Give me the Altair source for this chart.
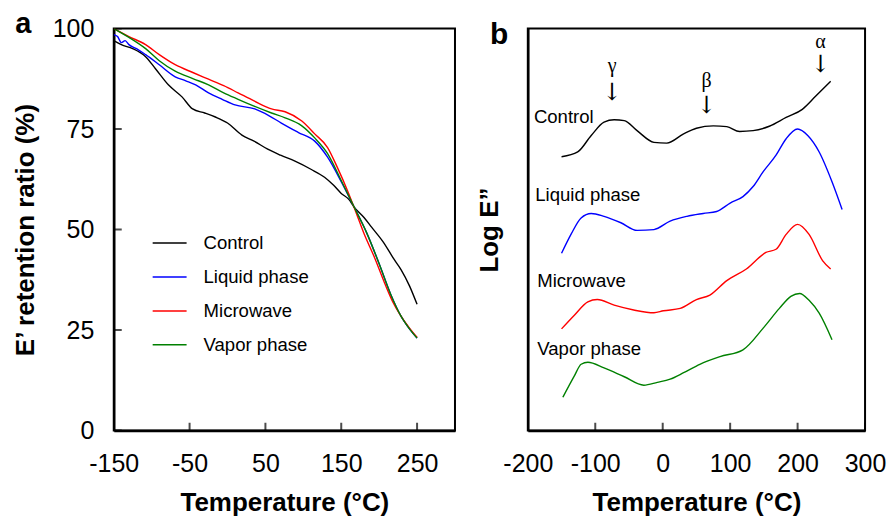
import altair as alt
import pandas as pd

FONT = "Liberation Sans"
SERIF = "Liberation Serif"
ARROWFONT = "DejaVu Serif"

series = ["Control", "Liquid phase", "Microwave", "Vapor phase"]
colors = ["#000000", "#0000ff", "#ff0000", "#008000"]

# ---------------- panel a : E' retention ratio (%) ----------------
a_xticks = [-150, -50, 50, 150, 250]
a_yticks = [0, 25, 50, 75, 100]

a_ctrl_t = [-150, -140, -125, -108, -95, -78, -60, -46, -30, -16, 0, 19, 35, 53, 70, 89, 110, 128, 140, 150, 160, 167, 180, 190, 205, 220, 229, 240, 250]
a_ctrl_v = [97, 96, 95, 93, 90, 86, 83, 80, 79, 78, 76.5, 73.5, 72, 70, 68.5, 67, 65, 63, 61, 59, 57.5, 55.6, 53, 50.6, 47, 42.5, 40, 36, 31.4]

a_liq_t = [-150, -145, -140, -135, -130, -120, -108, -90, -69, -55, -42, -25, -7, 10, 36, 55, 71, 93, 115, 132, 150, 167, 184, 200, 215, 229, 240, 250]
a_liq_v = [98.5, 98, 96.5, 97, 96, 95, 93.5, 91, 88, 87, 86, 84, 82.4, 81, 80, 78.3, 76.5, 74.2, 72, 68, 61.9, 55.6, 49, 41.5, 34, 28.4, 25.3, 23]

a_mw_t = [-150, -130, -108, -90, -69, -45, -25, -5, 14, 35, 58, 76, 98, 115, 132, 145, 158, 170, 180, 194, 207, 218, 229, 240, 250]
a_mw_v = [100, 98, 96, 93.5, 91, 89, 87.4, 85.8, 84, 82, 80, 79.3, 77, 73.8, 70.4, 65.4, 59.8, 54, 49, 43, 36.8, 32, 28.4, 25.5, 23.2]

a_vap_t = [-150, -130, -108, -90, -69, -45, -25, -5, 14, 35, 58, 76, 98, 115, 132, 150, 167, 184, 200, 215, 229, 240, 250]
a_vap_v = [100, 97.8, 95, 92, 89.4, 87.5, 86, 84, 82.4, 80.7, 79, 77.8, 75.8, 72.8, 68.9, 62.2, 55.6, 49, 41.5, 34, 28.4, 25.3, 23]

# ---------------- panel b : Log E'' (offset curves, arbitrary units) ----------------
b_xticks = [-200, -100, 0, 100, 200, 300]

b_ctrl_t = [-150, -126, -106, -87, -72, -57, -38, -13, 6, 31, 50, 75, 95, 114, 134, 158, 183, 207, 227, 249]
b_ctrl_v = [68.1, 69.3, 73.4, 76.7, 77.3, 77.1, 74.6, 71.7, 71.5, 73.8, 75.2, 75.8, 75.6, 74.4, 74.6, 75.7, 77.9, 79.9, 83.2, 86.9]

b_liq_t = [-150, -136, -121, -106, -87, -62, -38, -13, 11, 36, 60, 80, 100, 119, 134, 149, 168, 183, 200, 215, 232, 251, 266]
b_liq_v = [44.1, 48.8, 52.9, 54.0, 53.3, 51.7, 49.8, 50.0, 52.1, 53.3, 54.0, 54.5, 56.6, 58.2, 60.7, 64.4, 68.5, 72.6, 75.0, 73.4, 69.3, 61.9, 55.0]

b_mw_t = [-150, -131, -111, -97, -72, -43, -13, 1, 26, 50, 70, 95, 124, 153, 168, 183, 200, 217, 237, 249]
b_mw_v = [25.3, 28.7, 32.0, 32.6, 31.2, 30.0, 29.3, 29.8, 30.4, 32.6, 33.7, 37.3, 40.2, 44.3, 45.1, 48.8, 51.3, 48.8, 42.3, 40.2]

b_vap_t = [-148, -131, -121, -111, -87, -57, -28, -8, 11, 31, 55, 85, 119, 149, 173, 190, 203, 217, 232, 251]
b_vap_v = [8.3, 13.6, 16.5, 17.0, 15.6, 13.4, 11.3, 12.0, 12.8, 14.4, 16.5, 18.4, 20.1, 25.5, 30.4, 33.4, 34.1, 32.4, 29.2, 22.6]

b_label_text = ["Control", "Liquid phase", "Microwave", "Vapor phase"]
b_label_t = [-191, -189, -186, -186]
b_label_v = [77.9, 58.7, 37.2, 20.3]

greek_text = ["γ", "β", "α"]
greek_t = [-75, 65, 234]
greek_v = [90.6, 86.9, 96.7]
arrow_v = [84.0, 80.8, 90.9]

# panel letters (placed in each panel's data coordinates)
panel_a_letter = {"T": [-280], "E": [101.0], "text": ["a"]}
panel_b_letter = {"T": [-256], "V": [98.5], "text": ["b"]}


def long_df(parts, vname):
    rows = []
    for name, ts, vs in parts:
        for t, v in zip(ts, vs):
            rows.append({"series": name, "T": t, vname: v})
    return pd.DataFrame(rows)


df_a = long_df([("Control", a_ctrl_t, a_ctrl_v), ("Liquid phase", a_liq_t, a_liq_v),
                ("Microwave", a_mw_t, a_mw_v), ("Vapor phase", a_vap_t, a_vap_v)], "E")
df_b = long_df([("Control", b_ctrl_t, b_ctrl_v), ("Liquid phase", b_liq_t, b_liq_v),
                ("Microwave", b_mw_t, b_mw_v), ("Vapor phase", b_vap_t, b_vap_v)], "V")

W, H = 342, 403
BW = 338

HYPHEN = "replace(datum.label, '\u2212', '-')"

# ---------- panel a ----------
xs_a = alt.Scale(domain=[-150, 300], nice=False, zero=False)
ys_a = alt.Scale(domain=[0, 100], nice=False)

x_axis = dict(labelPadding=21, titlePadding=13, labelOverlap=False, labelFlush=False, labelExpr=HYPHEN)

lines_a = alt.Chart(df_a).mark_line(strokeWidth=1.4, clip=True, interpolate="monotone").encode(
    x=alt.X("T:Q", scale=xs_a, axis=alt.Axis(values=a_xticks, title="Temperature (°C)", **x_axis)),
    y=alt.Y("E:Q", scale=ys_a, axis=alt.Axis(values=a_yticks, title="E’ retention ratio (%)",
                                              labelPadding=20, titlePadding=14, labelOverlap=False,
                                              labelFlush=False)),
    color=alt.Color("series:N", scale=alt.Scale(domain=series, range=colors),
                    legend=alt.Legend(title=None, orient="none", legendX=38, legendY=197,
                                      symbolType="stroke", symbolSize=1156, symbolStrokeWidth=1.5,
                                      labelFontSize=18.6, labelFont=FONT, labelColor="black",
                                      labelOffset=16, rowPadding=6, padding=0)),
)

ticks_ax = alt.Chart(pd.DataFrame({"T": a_xticks})).mark_tick(
    orient="vertical", size=16, thickness=2, color="black", clip=True
).encode(x=alt.X("T:Q", scale=xs_a), y=alt.datum(0))

ticks_ay = alt.Chart(pd.DataFrame({"E": a_yticks})).mark_tick(
    orient="horizontal", size=16, thickness=2, color="black", clip=True
).encode(y=alt.Y("E:Q", scale=ys_a), x=alt.datum(-150))

letter_a = alt.Chart(pd.DataFrame(panel_a_letter)).mark_text(
    align="left", baseline="middle", fontSize=29, font=FONT, fontWeight="bold", color="black"
).encode(x=alt.X("T:Q", scale=xs_a), y=alt.Y("E:Q", scale=ys_a), text="text:N")

panel_a = alt.layer(lines_a, ticks_ax, ticks_ay, letter_a).properties(width=W, height=H)

# ---------- panel b ----------
xs_b = alt.Scale(domain=[-200, 300], nice=False, zero=False)
ys_b = alt.Scale(domain=[0, 100], nice=False)

lines_b = alt.Chart(df_b).mark_line(strokeWidth=1.4, clip=True, interpolate="monotone").encode(
    x=alt.X("T:Q", scale=xs_b, axis=alt.Axis(values=b_xticks, title="Temperature (°C)", **x_axis)),
    y=alt.Y("V:Q", scale=ys_b, axis=alt.Axis(labels=False, title="Log E”", titlePadding=25)),
    color=alt.Color("series:N", scale=alt.Scale(domain=series, range=colors), legend=None),
)

ticks_bx = alt.Chart(pd.DataFrame({"T": b_xticks})).mark_tick(
    orient="vertical", size=16, thickness=2, color="black", clip=True
).encode(x=alt.X("T:Q", scale=xs_b), y=alt.datum(0))

labels_b = alt.Chart(pd.DataFrame({"T": b_label_t, "V": b_label_v, "text": b_label_text})).mark_text(
    align="left", baseline="middle", fontSize=18.6, font=FONT, color="black"
).encode(x=alt.X("T:Q", scale=xs_b), y=alt.Y("V:Q", scale=ys_b), text="text:N")

greek_b = alt.Chart(pd.DataFrame({"T": greek_t, "V": greek_v, "text": greek_text})).mark_text(
    align="center", baseline="middle", fontSize=20, font=SERIF, color="black"
).encode(x=alt.X("T:Q", scale=xs_b), y=alt.Y("V:Q", scale=ys_b), text="text:N")

arrows_b = alt.Chart(pd.DataFrame({"T": greek_t, "V": arrow_v, "text": ["↓"] * len(greek_t)})).mark_text(
    align="center", baseline="middle", fontSize=24, font=ARROWFONT, color="black"
).encode(x=alt.X("T:Q", scale=xs_b), y=alt.Y("V:Q", scale=ys_b), text="text:N")

letter_b = alt.Chart(pd.DataFrame(panel_b_letter)).mark_text(
    align="left", baseline="middle", fontSize=30, font=FONT, fontWeight="bold", color="black"
).encode(x=alt.X("T:Q", scale=xs_b), y=alt.Y("V:Q", scale=ys_b), text="text:N")

panel_b = alt.layer(lines_b, ticks_bx, labels_b, greek_b, arrows_b, letter_b).properties(width=BW, height=H)

chart = alt.hconcat(panel_a, panel_b, spacing=73, bounds="flush").properties(
    padding={"left": 3, "top": 0, "right": 0, "bottom": 0},
    background="white",
).configure_view(
    stroke="black", strokeWidth=2
).configure_axis(
    grid=False, ticks=False, domainColor="black", domainWidth=2.5,
    labelFont=FONT, labelFontSize=25, labelColor="black",
    titleFont=FONT, titleFontSize=26, titleFontWeight="bold", titleColor="black",
)

chart.save("out.html", embed_options={"renderer": "svg", "actions": False})
